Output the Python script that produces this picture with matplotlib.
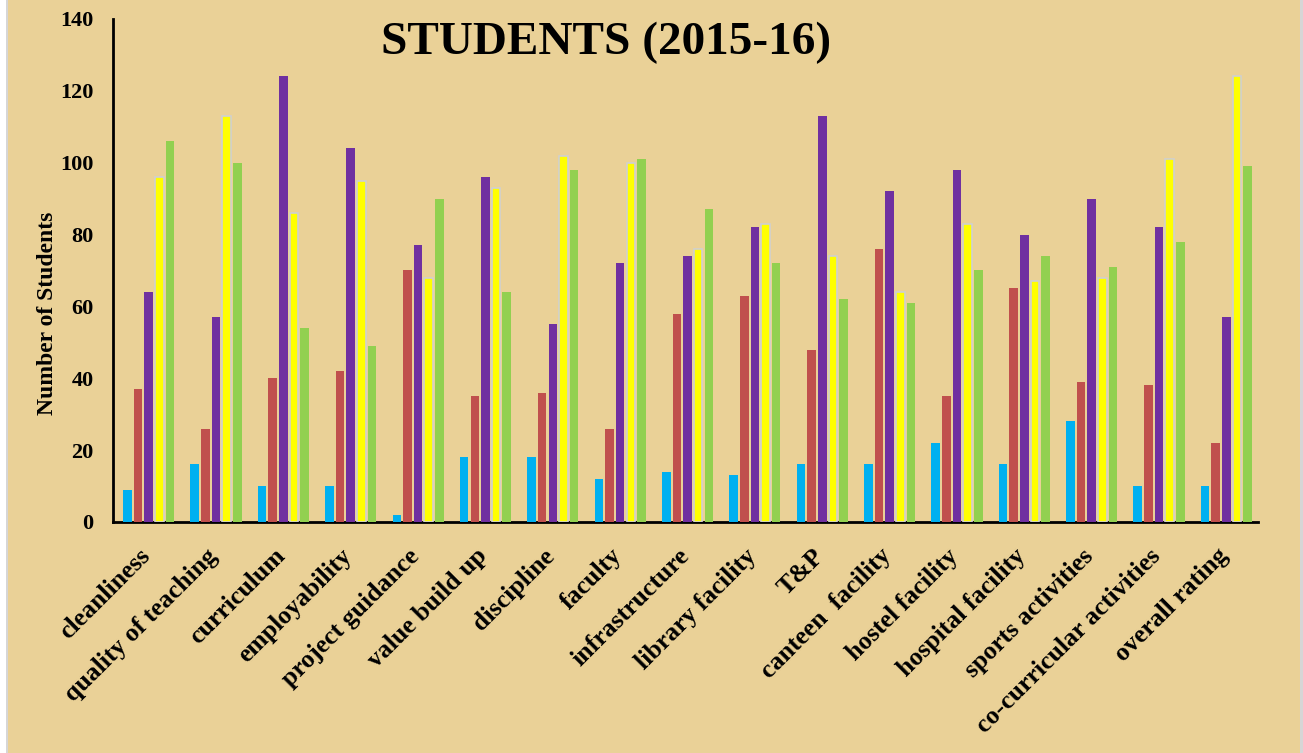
import numpy as np
import matplotlib
matplotlib.use('Agg')
import matplotlib.pyplot as plt
from matplotlib.patches import Rectangle

# ---- data ----
categories = ['cleanliness', 'quality of teaching', 'curriculum', 'employability',
              'project guidance', 'value build up', 'discipline', 'faculty',
              'infrastructure', 'library facility', 'T&P', 'canteen  facility',
              'hostel facility', 'hospital facility', 'sports activities',
              'co-curricular activities', 'overall rating']
s_blue   = [9, 16, 10, 10, 2, 18, 18, 12, 14, 13, 16, 16, 22, 16, 28, 10, 10]
s_red    = [37, 26, 40, 42, 70, 35, 36, 26, 58, 63, 48, 76, 35, 65, 39, 38, 22]
s_purple = [64, 57, 124, 104, 77, 96, 55, 72, 74, 82, 113, 92, 98, 80, 90, 82, 57]
s_yellow = [96, 113, 86, 95, 68, 93, 102, 100, 76, 83, 74, 64, 83, 67, 68, 101, 124]
s_green  = [106, 100, 54, 49, 90, 64, 98, 101, 87, 72, 62, 61, 70, 74, 71, 78, 99]
yticks = [0, 20, 40, 60, 80, 100, 120, 140]

series = [s_blue, s_red, s_purple, s_yellow, s_green]
colors = ['#00B0F0', '#C0504D', '#7030A0', '#FFFF00', '#92D050']

bg = '#EAD197'
serif = ['Liberation Serif', 'DejaVu Serif']

fig = plt.figure(figsize=(13.03, 7.53), dpi=100, facecolor=bg)
# thin page border on the left / right edges
fig.patches.append(Rectangle((0, 0), 6 / 1303, 1, transform=fig.transFigure,
                             facecolor='white', edgecolor='none', zorder=0))
fig.patches.append(Rectangle((6 / 1303, 0), 2 / 1303, 1, transform=fig.transFigure,
                             facecolor='#D6D6D6', edgecolor='none', zorder=0))
fig.patches.append(Rectangle((1300 / 1303, 0), 3 / 1303, 1, transform=fig.transFigure,
                             facecolor='#D6D6D6', edgecolor='none', zorder=0))

ax = fig.add_axes([0.0867, 0.3068, 0.8788, 0.668])
ax.set_facecolor('none')

x = np.arange(len(categories))
step, w = 0.158, 0.128
for i, (vals, c) in enumerate(zip(series, colors)):
    off = (i - 2) * step + 0.03
    if c == '#FFFF00':
        ax.bar(x + off, vals, width=w, color=c, edgecolor='#D0D0D0', linewidth=1.2, zorder=3)
    else:
        ax.bar(x + off, vals, width=w, color=c, linewidth=0, zorder=3)

ax.set_xlim(-0.5, len(categories) - 0.5)
ax.set_ylim(0, 140)
ax.set_yticks(yticks)
ax.set_yticklabels([str(v) for v in yticks], family=serif, fontweight='bold', fontsize=16)
ax.set_xticks(x)
ax.set_xticklabels(categories, rotation=45, ha='right', va='center', rotation_mode='anchor',
                   family=serif, fontweight='bold', fontsize=18.5)
ax.tick_params(axis='both', length=0)
ax.tick_params(axis='y', pad=14)
ax.tick_params(axis='x', pad=22)

for s in ['top', 'right']:
    ax.spines[s].set_visible(False)
for s in ['left', 'bottom']:
    ax.spines[s].set_linewidth(2)
    ax.spines[s].set_color('black')

ax.set_ylabel('Number of Students', family=serif, fontweight='bold', fontsize=17)
ax.yaxis.set_label_coords(-0.048, 0.415)
ax.text(0.431, 0.952, 'STUDENTS (2015-16)', transform=ax.transAxes, ha='center', va='center',
        family=serif, fontweight='bold', fontsize=34)

fig.savefig('out.png', dpi=100, facecolor=bg)
